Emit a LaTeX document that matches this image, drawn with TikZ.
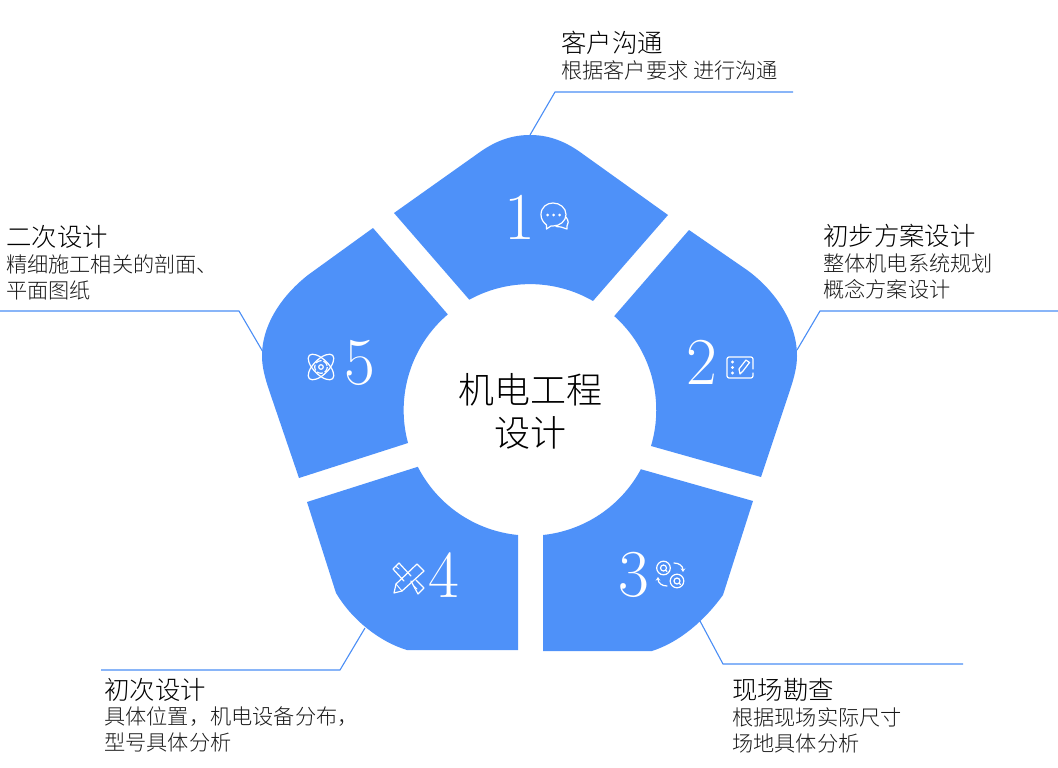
\documentclass[tikz,border=0pt]{standalone}
\usepackage{fontspec}
\usetikzlibrary{arrows.meta}
\newfontfamily\cjk{Noto Sans CJK SC}[UprightFont=* Light]
\definecolor{petal}{HTML}{4E91F9}
\definecolor{leader}{HTML}{4A8DF5}
\tikzset{
  petal/.style={fill=petal,draw=none},
  leader/.style={draw=leader,line width=1.1pt},
  head/.style={anchor=west,inner sep=0pt,font=\cjk\fontsize{25.4}{26}\selectfont,text=black},
  body/.style={anchor=west,inner sep=0pt,align=left,font=\cjk\fontsize{21.2}{26}\selectfont,text=black!90},
  title/.style={inner sep=0pt,align=center,font=\cjk\fontsize{36}{43}\selectfont,text=black},
  digit/.style={inner sep=0pt,text=white,font=\fontsize{67}{67}\selectfont},
  icon/.style={draw=white,line width=1.2pt,line cap=round,line join=round},
  dotf/.style={fill=white,draw=none}
}
\begin{document}
\begin{tikzpicture}[x=1pt,y=-1pt]
\useasboundingbox (0,0) rectangle (1058,768);
\def\R{126}
% leaders
\coordinate (a1) at (530,135); \coordinate (a2) at (555,92); \coordinate (a3) at (793,92);
\coordinate (b1) at (797,350); \coordinate (b2) at (820,311); \coordinate (b3) at (1058,311);
\coordinate (c1) at (700,621); \coordinate (c2) at (723,664); \coordinate (c3) at (963,664);
\coordinate (d1) at (365,628); \coordinate (d2) at (340,670); \coordinate (d3) at (101,670);
\coordinate (e1) at (263,352); \coordinate (e2) at (239,311); \coordinate (e3) at (0,311);
\draw[leader] (a1)--(a2)--(a3);
\draw[leader] (b1)--(b2)--(b3);
\draw[leader] (c1)--(c2)--(c3);
\draw[leader] (d1)--(d2)--(d3);
\draw[leader] (e1)--(e2)--(e3);
% petals
\fill[petal] (394,213) -- (480,152) .. controls (497,140) and (513,135) .. (530,135) .. controls (547,135) and (563,140) .. (580,152) -- (668,215) -- (593,301) arc[start angle=-60,end angle=-118.8,radius=\R] -- cycle;
\fill[petal] (689,230) -- (747,270) .. controls (772,288) and (797,320) .. (797,356) .. controls (797,367) and (794,378) .. (790,390) -- (761,477) -- (651,446) arc[start angle=16.6,end angle=-48.2,radius=\R] -- cycle;
\fill[petal] (753,501) -- (723,595) .. controls (705,620) and (680,642) .. (652,651) -- (543,651) -- (543,535) arc[start angle=84,end angle=28.2,radius=\R] -- cycle;
\fill[petal] (307,502) -- (336,593) .. controls (352,620) and (380,642) .. (407,650) -- (518,650) -- (518,535) arc[start angle=95.5,end angle=153,radius=\R] -- cycle;
\fill[petal] (373,228) -- (308,275) .. controls (285,293) and (262,322) .. (262,356) .. controls (262,367) and (265,378) .. (269,390) -- (299,478) -- (408,443) arc[start angle=164.9,end angle=229.5,radius=\R] -- cycle;
% digits
\node[digit] (n1) at (520,217) {1};
\node[digit] (n2) at (701.5,362) {2};
\node[digit] (n3) at (633.5,575) {3};
\node[digit] (n4) at (443.5,575) {4};
\node[digit] (n5) at (360,363) {5};
% icon 1
\draw[icon] (546.5,225) .. controls (543,222) and (541,219) .. (541,214.5) .. controls (541,207) and (547,203) .. (553,203) .. controls (560,203) and (566,208) .. (566,214.5) .. controls (566,221) and (560,226) .. (553,226) -- (551,226) -- (546.5,229) -- cycle;
\draw[icon] (566,217) .. controls (569,221) and (568.5,224) .. (567,226) -- (567,229) -- (561,227) -- (556,226.5);
\fill[dotf] (547.5,215) circle (1.5) (553.5,215) circle (1.5) (559.5,215) circle (1.5);
% icon 2
\draw[icon] (753,369) -- (753,359) .. controls (753,358) and (752,357) .. (751,357) -- (729,357) .. controls (728,357) and (727,358) .. (727,359) -- (727,376) .. controls (727,377) and (728,378) .. (729,378) -- (751,378) .. controls (752,378) and (753,377) .. (753,376) -- (753,373);
\fill[dotf] (732.5,362) circle (1.7) (732.5,367.5) circle (1.7) (732.5,373) circle (1.7);
\draw[icon] (740,374) -- (739,369) -- (746,360) -- (749.5,362.5) -- (743,371) -- cycle;
% icon 3
\draw[icon] (663.5,568) circle (6.8) (677,581) circle (6.8);
\draw[icon] (663.5,568) circle (3) (677,581) circle (3) (665.7,570.2) -- (667,571.5) (679.2,583.2) -- (680.5,584.5);
\draw[icon,-{Stealth[length=3.5pt,width=4.5pt]}] (674,563) .. controls (679,563) and (683,566) .. (683,572);
\draw[icon,-{Stealth[length=3.5pt,width=4.5pt]}] (667,586) .. controls (662,586) and (658,583) .. (658,577);
% icon 4
\draw[icon] (411,576) -- (399,563) -- (393,569) -- (404,581) (411,581) -- (418,594) -- (424,588) -- (416,580);
\draw[icon] (417,564) -- (424,571) -- (402,591) -- (394,593) -- (396,584) -- cycle;
\draw[icon,line width=.9pt] (396,566.5) -- (399,569) (414,586) -- (417,589) (396,584) -- (402,591);
% icon 5
\draw[icon] (321,367) circle (2.3);
\draw[icon,dash pattern=on 6pt off 2pt,line cap=butt] (321,367) circle (6.3);
\draw[icon] (321,367) ellipse [x radius=16.5,y radius=7.5,rotate=45];
\draw[icon] (321,367) ellipse [x radius=16.5,y radius=7.5,rotate=-45];
% texts
\node[title] (centre) at (530,411) {机电工程\\设计};
\node[head] (h1) at (561,43) {客户沟通};
\node[body] (t1) at (561,70) {根据客户要求 进行沟通};
\node[head] (h2) at (823,236) {初步方案设计};
\node[body] (t2) at (823,276) {整体机电系统规划\\概念方案设计};
\node[head] (h3) at (732,690) {现场勘查};
\node[body] (t3) at (732,730) {根据现场实际尺寸\\场地具体分析};
\node[head] (h4) at (104,690) {初次设计};
\node[body] (t4) at (104,729) {具体位置，机电设备分布，\\型号具体分析};
\node[head] (h5) at (6,237) {二次设计};
\node[body] (t5) at (6,277) {精细施工相关的剖面、\\平面图纸};
\end{tikzpicture}
\end{document}
